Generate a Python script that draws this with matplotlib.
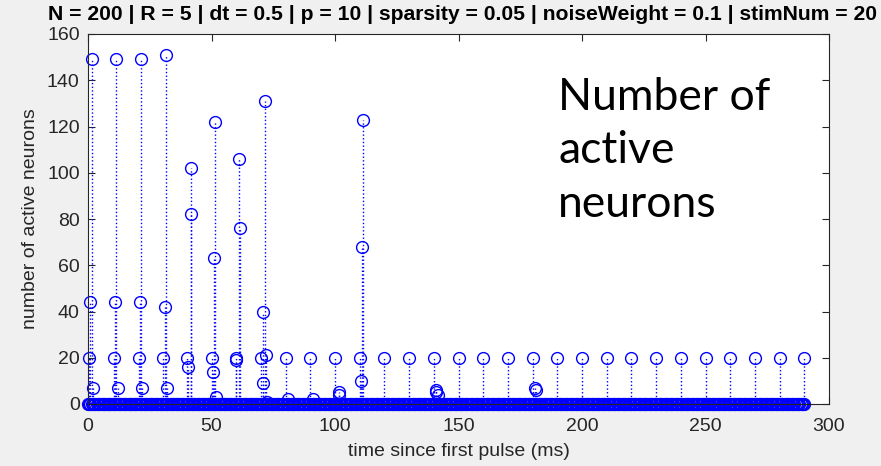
import matplotlib.pyplot as plt
import numpy as np

# time axis of the simulation (dt = 0.5 ms), zero activity everywhere by default
dt = 0.5
t_end = 290.0
t_grid = np.arange(0, t_end + dt, dt)
zero_counts = np.zeros(len(t_grid))

# non-zero activity after each pulse (time in ms, number of active neurons)
burst_times = [0.5, 1.0, 1.5, 2.0,
               10.5, 11.0, 11.5, 12.0,
               20.5, 21.0, 21.5, 22.0,
               30.5, 31.0, 31.5, 32.0,
               40.0, 40.5, 41.5, 41.5,
               50.0, 50.5, 51.0, 51.5, 52.0,
               60.0, 60.0, 61.0, 61.5,
               70.0, 71.0, 71.0, 71.5, 72.0, 72.5,
               80.0, 81.0,
               90.0, 91.0,
               100.0, 101.5, 101.5,
               110.0, 110.5, 111.0, 111.5,
               120.0, 130.0, 140.0, 141.0, 141.0, 141.5,
               150.0, 160.0, 170.0, 180.0, 181.0, 181.5,
               190.0, 200.0, 210.0, 220.0, 230.0, 240.0,
               250.0, 260.0, 270.0, 280.0, 290.0]
burst_counts = [20, 44, 149, 7,
                20, 44, 149, 7,
                20, 44, 149, 7,
                20, 42, 151, 7,
                20, 16, 82, 102,
                20, 14, 63, 122, 3,
                20, 19, 106, 76,
                20, 40, 9, 131, 21, 1,
                20, 2,
                20, 2,
                20, 5, 4,
                20, 10, 68, 123,
                20, 20, 20, 6, 5, 4,
                20, 20, 20, 20, 7, 6,
                20, 20, 20, 20, 20, 20,
                20, 20, 20, 20, 20]

title_str = ('N = 200 | R = 5 | dt = 0.5 | p = 10 | sparsity = 0.05 | '
             'noiseWeight = 0.1 | stimNum = 20')
note_lines = ['Number of', 'active', 'neurons']

fig = plt.figure(figsize=(8.81, 4.66), dpi=100, facecolor='#f0f0f0')
ax = fig.add_axes([88 / 881, 1 - 404 / 466, (829 - 88) / 881, (404 - 34) / 466])
ax.set_facecolor('white')

blue = (0, 0, 1)
for tt, nn in [(t_grid, zero_counts), (burst_times, burst_counts)]:
    mk, st, bl = ax.stem(tt, nn, linefmt=':', markerfmt='o', basefmt=' ')
    st.set_color(blue)
    st.set_linewidth(1.0)
    mk.set_markerfacecolor('none')
    mk.set_markeredgecolor(blue)
    mk.set_markersize(8.5)
    mk.set_markeredgewidth(1.0)
    mk.set_clip_on(False)
    st.set_clip_on(False)

ax.set_xlim(0, 300)
ax.set_ylim(0, 160)
ax.set_xticks(np.arange(0, 301, 50))
ax.set_yticks(np.arange(0, 161, 20))
ax.tick_params(direction='in', top=True, right=True, length=5, width=0.8,
               labelsize=14, labelcolor='#262626', color='#262626')
ax.tick_params(axis='x', pad=10)
ax.tick_params(axis='y', pad=6)
for s in ax.spines.values():
    s.set_color('#262626')
    s.set_linewidth(0.8)

ax.set_xlabel('time since first pulse (ms)', fontsize=14, color='#262626', labelpad=6)
ax.set_ylabel('number of active neurons', fontsize=14, color='#262626', labelpad=6)
for lab in [ax.xaxis.label, ax.yaxis.label] + ax.get_xticklabels() + ax.get_yticklabels():
    lab.set_family(['Liberation Sans', 'DejaVu Sans'])

fig.text(462 / 881, 1 - 15 / 466, title_str, ha='center', va='center',
         fontsize=15.2, fontweight='bold', family='Liberation Sans')

# slide annotation on top of the plot, one line per baseline
for i, line in enumerate(note_lines):
    fig.text(558 / 881, 1 - (110 + 53.5 * i) / 466, line, ha='left', va='baseline',
             fontsize=32, family='Lato', color='black')

fig.savefig('out.png', dpi=100, facecolor=fig.get_facecolor())
